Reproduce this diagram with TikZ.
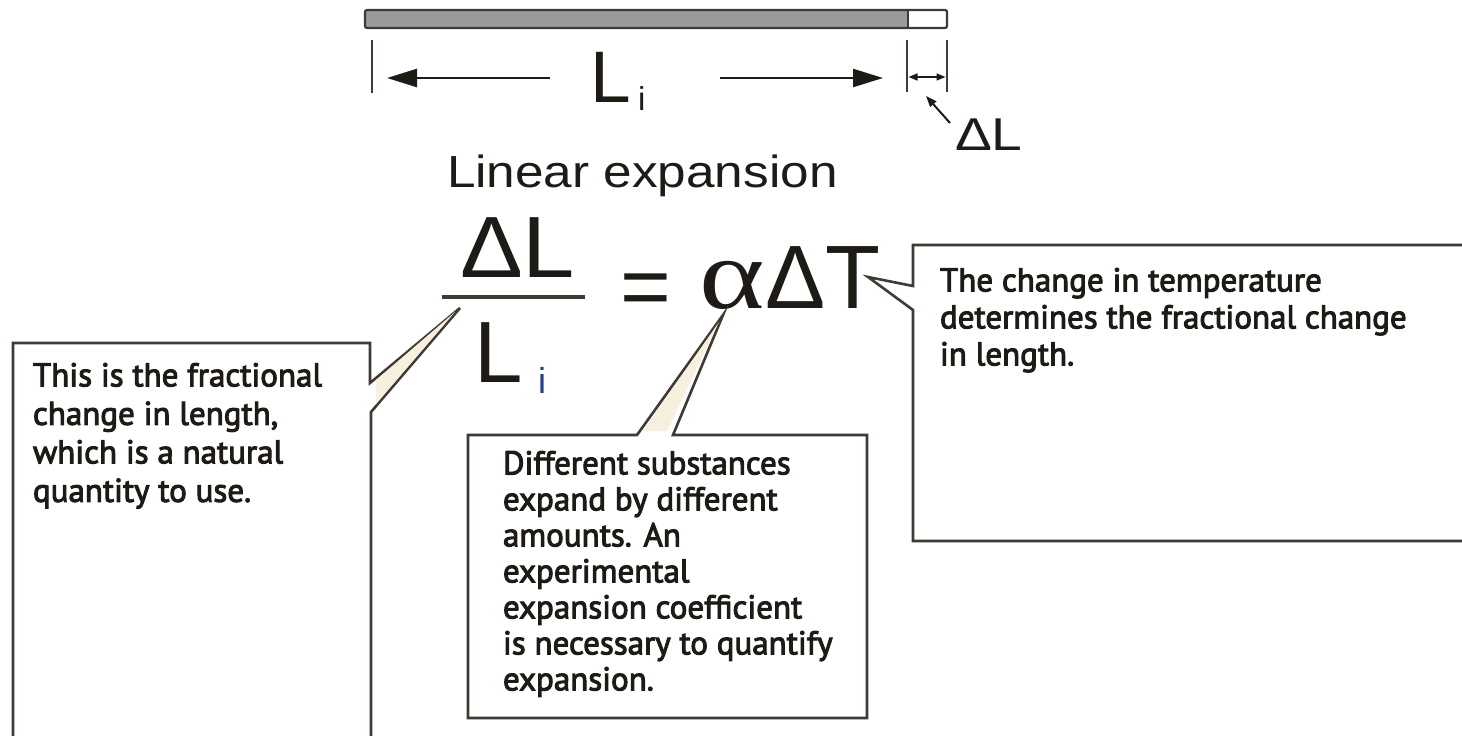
\documentclass[tikz,border=0pt]{standalone}
\usepackage{fontspec}
\setmainfont{Liberation Sans}
\newfontfamily\alphafont{Liberation Serif}
\newfontfamily\notefont[FakeBold=3]{PT Sans}
\usetikzlibrary{arrows.meta}
\definecolor{edgec}{HTML}{3F3A34}
\definecolor{inkc}{HTML}{1E1B17}
\definecolor{barc}{HTML}{9A9A9A}
\definecolor{tipc}{HTML}{F7F0DF}
\definecolor{subc}{HTML}{1F3F8F}
\begin{document}
\begin{tikzpicture}[x=1pt,y=-1pt,
  txt/.style={inner sep=0pt,outer sep=0pt,anchor=base west,text=inkc},
  fs/.style={font=\fontsize{#1}{#1}\selectfont},
  box/.style={draw=edgec,line width=2.6pt,fill=white,line join=miter},
  note/.style={inner sep=0pt,outer sep=0pt,anchor=north west,text=inkc,align=left,font=\notefont\fontsize{33}{#1}\selectfont},
  dimline/.style={draw=inkc,line width=2.4pt},
  tick/.style={draw=edgec,line width=2.4pt}
]
\useasboundingbox (0,0) rectangle (1462,736);
\clip (0,0) rectangle (1462,736);
\fill[white] (0,0) rectangle (1462,736);

% bar
\fill[barc] (365,10) rectangle (908,28);
\fill[white] (908,10) rectangle (947,28);
\draw[edgec,line width=2.2pt,rounded corners=2pt] (365,10) rectangle (947,28);
\draw[edgec,line width=2pt] (908,10) -- (908,28);

% dimension marks
\coordinate (t1a) at (372,40); \coordinate (t1b) at (372,93);
\coordinate (t2a) at (907,40); \coordinate (t2b) at (907,92);
\coordinate (t3a) at (947,40); \coordinate (t3b) at (947,92);
\draw[tick] (t1a) -- (t1b);
\draw[tick] (t2a) -- (t2b);
\draw[tick] (t3a) -- (t3b);
\coordinate (la) at (550,78); \coordinate (lb) at (387,78);
\coordinate (ra) at (720,78); \coordinate (rb) at (883,78);
\draw[dimline,-{Triangle[length=30pt,width=18pt]}] (la) -- (lb);
\draw[dimline,-{Triangle[length=30pt,width=18pt]}] (ra) -- (rb);
\coordinate (sa) at (908.5,77); \coordinate (sb) at (945.5,77);
\draw[draw=inkc,line width=1.5pt,{Triangle[length=9pt,width=7pt]}-{Triangle[length=9pt,width=7pt]}] (sa) -- (sb);

\node[txt,fs=73] (Li) at (590,102) {L};
\node[txt,fs=33] (Lisub) at (638,110) {i};
\node[txt,fs=46,xscale=1.2] (dL) at (955,150) {ΔL};
\coordinate (pa) at (950,123); \coordinate (pb) at (926,96);
\draw[draw=inkc,line width=2pt,-{Triangle[length=11pt,width=8pt]}] (pa) -- (pb);

% title and formula
\node[txt,fs=45,xscale=1.14] (title) at (447,187) {Linear expansion};
\node[txt,fs=87,xscale=1.08] (num) at (460,277) {ΔL};
\coordinate (fa) at (442,297); \coordinate (fb) at (585,297);
\draw[draw=edgec,line width=3.5pt] (fa) -- (fb);
\node[txt,fs=87] (den) at (474,382) {L};
\node[txt,fs=36,text=subc] (densub) at (538,393) {i};
\node[txt,fs=87] (eq) at (620,316) {=};
\node[txt,xscale=1.25,font={\alphafont\fontsize{100}{100}\selectfont}] (alpha) at (699,308) {α};
\node[txt,fs=90] (dT) at (765,308) {ΔT};

% left callout
\coordinate (ltip) at (460,308);
\draw[box] (13,343) -- (370,343) -- (370,383) -- (ltip) -- (371,412) -- (371,760) -- (13,760) -- cycle;
\fill[tipc] (376,380) -- (455,312) -- (376,404) -- cycle;
\node[note=38.5] (lnote) at (33,363) {This is the fractional\\change in length,\\which is a natural\\quantity to use.};

% middle callout
\coordinate (mtip) at (723,315);
\draw[box] (468,435) -- (637,435) -- (mtip) -- (673,435) -- (867,435) -- (867,718) -- (468,718) -- cycle;
\fill[tipc] (643,431) -- (719,322) -- (667,431) -- cycle;
\node[note=36] (mnote) at (503,451) {Different substances\\expand by different\\amounts. An\\experimental\\expansion coefficient\\is necessary to quantify\\expansion.};

% right callout
\coordinate (rtip) at (868,277);
\draw[box] (913,286) -- (913,245) -- (1475,245) -- (1475,541) -- (913,541) -- (913,310) -- (rtip) -- cycle;
\node[note=37] (rnote) at (940,268) {The change in temperature\\determines the fractional change\\in length.};
\end{tikzpicture}
\end{document}
